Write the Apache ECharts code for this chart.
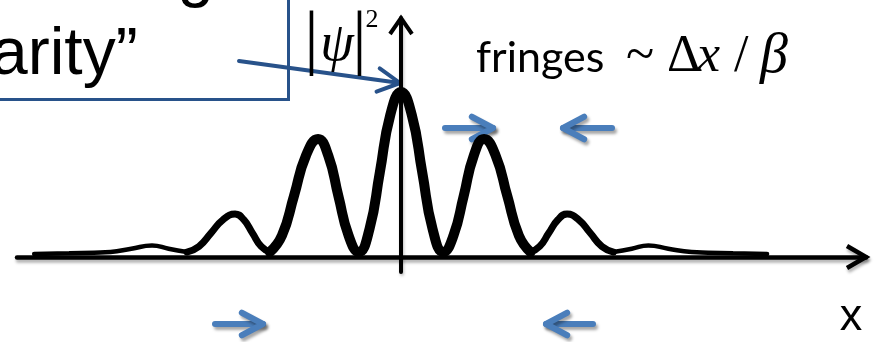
<!DOCTYPE html>
<html>
<head>
<meta charset="utf-8">
<script src="https://cdn.jsdelivr.net/npm/echarts@6/dist/echarts.min.js"></script>
<style>
  html, body { margin: 0; padding: 0; background: #ffffff; }
  #chart { width: 874px; height: 342px; }
</style>
</head>
<body>
<div id="chart"></div>
<script>
// Interference pattern |psi|^2 along x (x in fringe spacings, central peak = 1)
const curveX = [
  -4.42, -4.0, -3.7, -3.5, -3.25, -3.0, -2.8, -2.58,
  -2.435, -2.29, -2.145, -2.0, -1.895, -1.79, -1.685, -1.58,
  -1.435, -1.29, -1.145, -1.0, -0.877, -0.755, -0.632, -0.51,
  -0.38, -0.255, -0.13, 0, 0.13, 0.255, 0.38, 0.51,
  0.632, 0.755, 0.877, 1.0, 1.14, 1.28, 1.42, 1.56,
  1.67, 1.78, 1.89, 2.0, 2.14, 2.28, 2.42, 2.56,
  2.78, 2.98, 3.22, 3.5, 3.7, 4.0, 4.41
];
const curveY = [
  0.018, 0.022, 0.026, 0.03, 0.05, 0.07, 0.05, 0.03,
  0.064, 0.145, 0.226, 0.26, 0.226, 0.145, 0.064, 0.03,
  0.13, 0.37, 0.615, 0.715, 0.615, 0.37, 0.13, 0.03,
  0.17, 0.515, 0.86, 1.0, 0.86, 0.515, 0.17, 0.03,
  0.13, 0.37, 0.615, 0.715, 0.615, 0.37, 0.13, 0.03,
  0.064, 0.145, 0.226, 0.26, 0.226, 0.145, 0.064, 0.03,
  0.05, 0.07, 0.05, 0.03, 0.026, 0.022, 0.018
];

// Stroke weight falls off away from the centre: [|x| from, |x| to, width]
const strokeBands = [
  [0, 1.58, 10],
  [1.56, 2.58, 7],
  [2.56, 10, 4.5]
];

// Axis extents (x in fringe spacings, y in units of the central peak)
const xRange = [-4.627, 5.602];
const yRange = [-0.0909, 1.4485];

function bandData(lo, hi) {
  const out = [];
  let prevIn = false;
  curveX.forEach((x, i) => {
    const a = Math.abs(x);
    const inside = a >= lo - 1e-9 && a <= hi + 1e-9;
    if (inside) out.push([x, curveY[i]]);
    else if (prevIn) out.push([x, '-']);
    prevIn = inside;
  });
  return out;
}

const navy = '#28528a';
const blue = '#4a7ebb';
const dropShadow = { shadowColor: 'rgba(0,0,0,0.35)', shadowBlur: 3, shadowOffsetX: 2, shadowOffsetY: 3 };

// straight arrow with an open chevron head
function arrow(x1, y1, x2, y2, color, width, head, angleDeg, extra) {
  const dx = x2 - x1, dy = y2 - y1, L = Math.hypot(dx, dy);
  const ux = dx / L, uy = dy / L;
  const a = angleDeg * Math.PI / 180, c = Math.cos(a), s = Math.sin(a);
  const p1 = [x2 - head * (ux * c - uy * s), y2 - head * (uy * c + ux * s)];
  const p2 = [x2 - head * (ux * c + uy * s), y2 - head * (uy * c - ux * s)];
  const style = Object.assign({ stroke: color, lineWidth: width, lineCap: 'round', lineJoin: 'round', fill: null }, extra || {});
  return [
    { type: 'line', shape: { x1, y1, x2, y2 }, style },
    { type: 'polyline', shape: { points: [p1, [x2, y2], p2] }, style }
  ];
}

function chevron(tip, back, half, dir, style) {
  // dir: 'right' or 'up'
  const [tx, ty] = tip;
  const pts = dir === 'right'
    ? [[tx - back, ty - half], [tx, ty], [tx - back, ty + half]]
    : [[tx - half, ty + back], [tx, ty], [tx + half, ty + back]];
  return { type: 'polyline', shape: { points: pts }, style: Object.assign({ stroke: '#000', lineWidth: 4.5, fill: null, lineJoin: 'miter', lineCap: 'butt' }, style) };
}

function txt(text, x, y, size, family, opts) {
  return {
    type: 'text',
    style: Object.assign({
      text, x, y, fontSize: size, fontFamily: family, fill: '#000',
      align: 'left', verticalAlign: 'middle'
    }, opts || {})
  };
}

const serif = '"Liberation Serif", "Times New Roman", serif';
const sans = '"Liberation Sans", Arial, sans-serif';

const graphics = [
  // caption box (extends past the top-left corner)
  { type: 'rect', shape: { x: -10, y: -10, width: 298.5, height: 109.5 },
    style: { fill: '#ffffff', stroke: navy, lineWidth: 3 } },
  txt('g', 214, -24.5, 66, sans, { align: 'right' }),
  txt('arity\u201D', -9, 55.5, 66, sans),
  // pointer from the box to the central maximum
  ...arrow(239, 61, 400, 83, navy, 4, 25, 28),
  // |psi|^2 label
  txt('|', 311.5, 42, 72, serif, { align: 'center' }),
  txt('\u03C8', 337, 46, 54, serif, { align: 'center', fontStyle: 'italic' }),
  txt('|', 359.5, 42, 72, serif, { align: 'center' }),
  txt('2', 372, 20.5, 26, serif, { align: 'center' }),
  // fringes ~ dx / beta
  txt('fringes', 476, 58.5, 43, 'Lato, "Open Sans", sans-serif'),
  txt('~', 626, 57, 52, serif),
  txt('\u0394', 667, 57, 52, serif),
  txt('x', 697, 57, 52, serif, { fontStyle: 'italic' }),
  txt('/', 734, 57, 52, serif),
  txt('\u03B2', 760, 57, 56, serif, { fontStyle: 'italic' }),
  // axis label
  txt('x', 851, 318, 45, sans, { align: 'center' }),
  // axis arrowheads
  chevron([866, 257], 19, 11, 'right', { shadowColor: 'rgba(0,0,0,0.3)', shadowBlur: 3, shadowOffsetY: 3, shadowOffsetX: 1 }),
  chevron([401, 18], 16, 11, 'up', { lineWidth: 4 }),
  // fringe-width indicators
  ...arrow(445, 128, 493, 128, blue, 6, 24, 28, dropShadow),
  ...arrow(612, 128, 563, 128, blue, 6, 24, 28, dropShadow),
  ...arrow(215, 324, 263, 324, blue, 6, 24, 28, dropShadow),
  ...arrow(593, 324, 546, 324, blue, 6, 24, 28, dropShadow)
];

const chart = echarts.init(document.getElementById('chart'));
chart.setOption({
  animation: false,
  backgroundColor: '#ffffff',
  grid: { left: 17, right: 8, top: 18, bottom: 70, containLabel: false },
  xAxis: {
    type: 'value', min: xRange[0], max: xRange[1],
    axisLine: { show: true, onZero: true,
      lineStyle: { color: '#000', width: 4.5, shadowColor: 'rgba(0,0,0,0.3)', shadowBlur: 3, shadowOffsetY: 3, shadowOffsetX: 1 } },
    axisTick: { show: false }, axisLabel: { show: false }, splitLine: { show: false }
  },
  yAxis: {
    type: 'value', min: yRange[0], max: yRange[1],
    axisLine: { show: true, onZero: true,
      lineStyle: { color: '#000', width: 4, shadowColor: 'rgba(0,0,0,0.25)', shadowBlur: 3, shadowOffsetY: 2, shadowOffsetX: 1 } },
    axisTick: { show: false }, axisLabel: { show: false }, splitLine: { show: false }
  },
  series: strokeBands.map(([lo, hi, w]) => ({
    type: 'line',
    data: bandData(lo, hi),
    smooth: 0.5,
    symbol: 'none',
    connectNulls: false,
    lineStyle: { color: '#000', width: w, cap: 'round', join: 'round' },
    z: 3
  })),
  graphic: graphics
});
</script>
</body>
</html>
